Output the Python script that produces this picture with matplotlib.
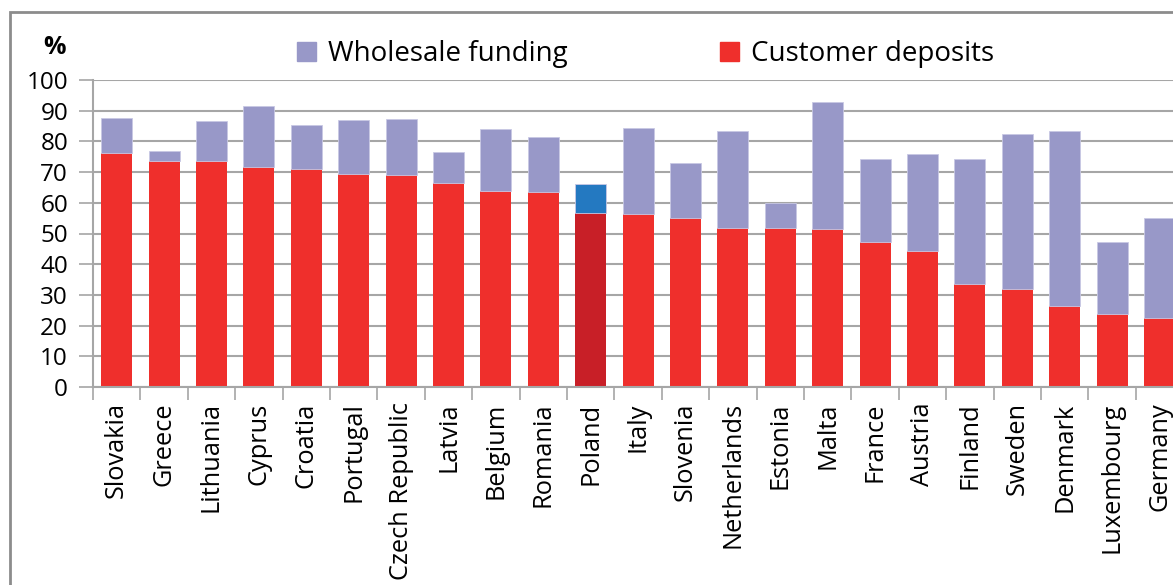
import matplotlib.pyplot as plt
import matplotlib.patches as mpatches
import numpy as np

plt.rcParams['font.family'] = ['Open Sans', 'DejaVu Sans']

countries = ["Slovakia", "Greece", "Lithuania", "Cyprus", "Croatia", "Portugal",
             "Czech Republic", "Latvia", "Belgium", "Romania", "Poland", "Italy",
             "Slovenia", "Netherlands", "Estonia", "Malta", "France", "Austria",
             "Finland", "Sweden", "Denmark", "Luxembourg", "Germany"]
# 顧客預金
deposits = [76.1, 73.6, 73.6, 71.5, 71.0, 69.5, 69.0, 66.4, 63.9, 63.5, 56.8, 56.5,
            55.2, 51.8, 51.8, 51.4, 47.2, 44.3, 33.4, 31.8, 26.4, 23.9, 22.6]
# 合計（預金＋ホールセール）
totals = [87.7, 76.9, 86.5, 91.5, 85.2, 87.0, 87.3, 76.4, 83.9, 81.4, 66.0, 84.4,
          73.1, 83.5, 59.8, 92.7, 74.4, 76.0, 74.4, 82.3, 83.5, 47.1, 55.2]
wholesale = [t - d for t, d in zip(totals, deposits)]
highlight = "Poland"

red = "#ef2f2c"
lav = "#9898c8"
red_hl = "#c81f27"
blue_hl = "#2479c1"
grid_c = "#a6a6a6"


def makeFig():
    fig = plt.figure(figsize=(11.73, 5.85), dpi=100)
    ax = fig.add_axes([93/1173, 1-387/585, 23*47.4/1173, 307/585])

    x = np.arange(len(countries))
    dep_col = [red_hl if c == highlight else red for c in countries]
    whl_col = [blue_hl if c == highlight else lav for c in countries]
    ax.bar(x, deposits, width=0.65, color=dep_col, zorder=2)
    ax.bar(x, wholesale, width=0.65, bottom=deposits, color=whl_col,
           edgecolor="#c8c8e4", linewidth=0.6, zorder=2)

    ax.set_xlim(-0.5, len(countries)-0.5)
    ax.set_ylim(0, 100)
    ax.set_yticks(np.arange(0, 101, 10))
    ax.yaxis.grid(True, color=grid_c, linewidth=1.5, zorder=0)
    ax.set_axisbelow(True)

    ax.set_xticks(x)
    ax.set_xticklabels(countries, rotation=90, fontsize=18.3)
    ax.set_xticks(np.arange(-0.5, len(countries), 1), minor=True)
    ax.tick_params(axis='x', which='major', length=0, pad=11)
    ax.tick_params(axis='x', which='minor', length=9, color=grid_c, width=1.2)
    ax.tick_params(axis='y', length=10, color=grid_c, width=1.2, pad=8,
                   labelsize=17.5)

    for s in ['top', 'right']:
        ax.spines[s].set_visible(False)
    for s in ['left', 'bottom']:
        ax.spines[s].set_color(grid_c)
        ax.spines[s].set_linewidth(1.5)

    fig.text(54/1173, 1-47/585, "%", fontsize=18, fontweight='bold',
             ha='center', va='center')

    handles = [mpatches.Patch(color=lav, label="Wholesale funding"),
               mpatches.Patch(color=red, label="Customer deposits")]
    fig.legend(handles=handles, loc='center left', ncol=2,
               bbox_to_anchor=(297/1173, 1-54/585), frameon=False,
               fontsize=20, handlelength=0.7, handleheight=0.7,
               handletextpad=0.4, columnspacing=5.5, borderpad=0,
               borderaxespad=0)

    # 外枠
    fig.patches.append(mpatches.Rectangle((10/1173, -0.1), 1.2, 1-12/585+0.1,
                                          transform=fig.transFigure,
                                          fill=False, edgecolor="#8c8c8c",
                                          linewidth=2))

    fig.savefig("out.png", dpi=100)


if __name__ == '__main__':
    makeFig()
